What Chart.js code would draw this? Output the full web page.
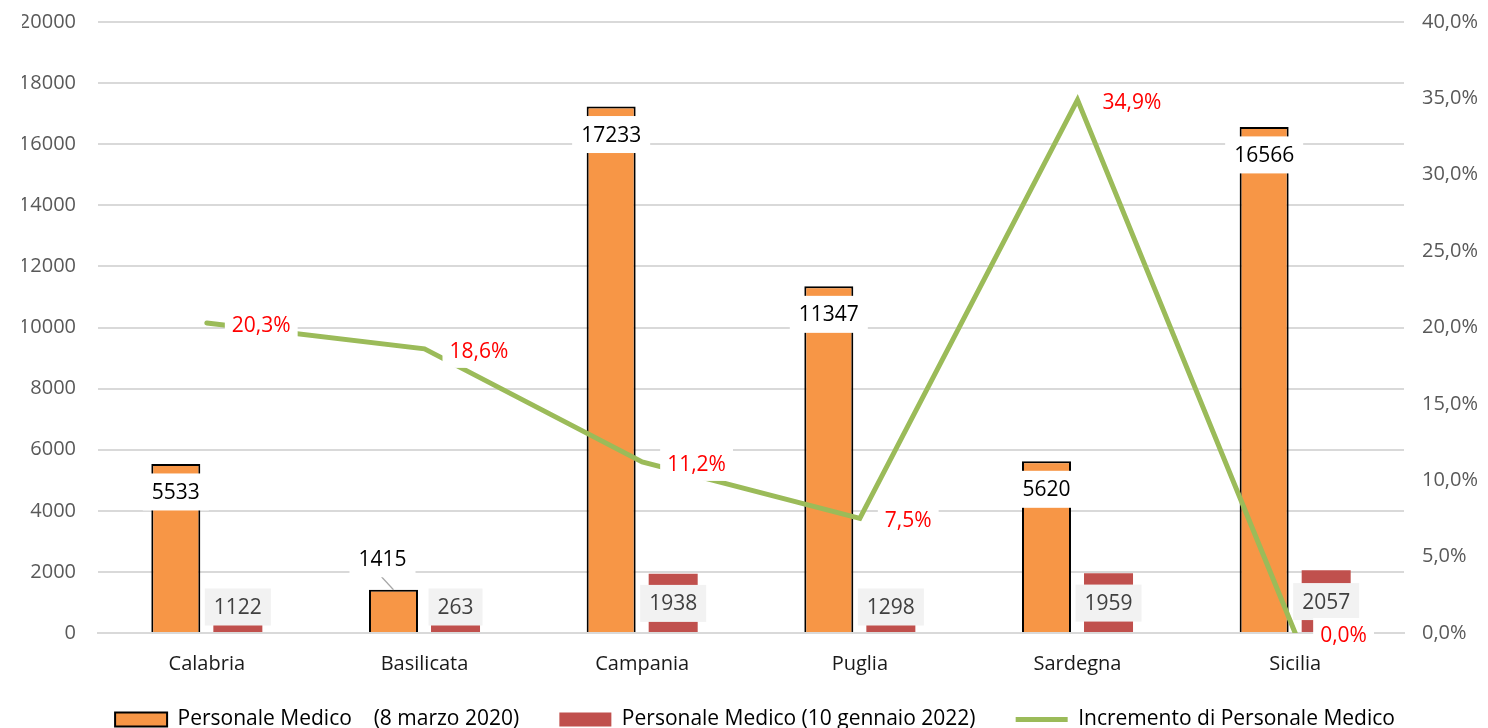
<!DOCTYPE html>
<html>
<head>
<meta charset="utf-8">
<script src="https://cdn.jsdelivr.net/npm/chart.js@4.4.1/dist/chart.umd.min.js"></script>
<style>
  html, body { margin: 0; padding: 0; background: #fff; }
  #wrap { width: 1488px; height: 728px; position: relative; }
</style>
</head>
<body>
<div id="wrap"><canvas id="chart"></canvas></div>
<script>
const regions = ['Calabria', 'Basilicata', 'Campania', 'Puglia', 'Sardegna', 'Sicilia'];
const medici2020 = [5533, 1415, 17233, 11347, 5620, 16566];
const medici2022 = [1122, 263, 1938, 1298, 1959, 2057];
const incremento = [0.203, 0.186, 0.112, 0.075, 0.349, 0.0];

const FONT = '"Open Sans", "Noto Sans", sans-serif';

function pct(v) {
    return (v * 100).toFixed(1).replace('.', ',') + '%';
}

// boxed text, like excel data labels
function boxLabel(ctx, text, cx, cy, bg, color) {
    const w = ctx.measureText(text).width + 18;
    const h = 37;
    ctx.fillStyle = bg;
    ctx.fillRect(cx - w / 2, cy - h / 2, w, h);
    ctx.fillStyle = color;
    ctx.fillText(text, cx, cy + 1);
}

const valueLabels = {
    id: 'valueLabels',
    afterDatasetsDraw(chart) {
        const ctx = chart.ctx;
        const base = chart.scales.y.getPixelForValue(0);
        ctx.save();
        ctx.font = '21px ' + FONT;
        ctx.textAlign = 'center';
        ctx.textBaseline = 'middle';

        // personale 2020: inside end, small bar gets label above with leader line
        chart.getDatasetMeta(0).data.forEach((bar, i) => {
            const txt = String(medici2020[i]);
            if (base - bar.y > 80) {
                boxLabel(ctx, txt, bar.x, bar.y + 28, '#ffffff', '#000000');
            } else {
                const lx = bar.x - 11, ly = bar.y - 31;
                ctx.strokeStyle = '#a6a6a6';
                ctx.lineWidth = 1.2;
                ctx.beginPath();
                ctx.moveTo(lx - 1, ly + 18);
                ctx.lineTo(bar.x, bar.y);
                ctx.stroke();
                boxLabel(ctx, txt, lx, ly, '#ffffff', '#000000');
            }
        });

        // personale 2022: centered, grey box
        chart.getDatasetMeta(1).data.forEach((bar, i) => {
            const cy = Math.min((bar.y + base) / 2, base - 26);
            boxLabel(ctx, String(medici2022[i]), bar.x, cy, '#f2f2f2', '#404040');
        });

        // incremento: right of point
        ctx.textAlign = 'left';
        chart.getDatasetMeta(2).data.forEach((pt, i) => {
            const txt = pct(incremento[i]);
            const w = ctx.measureText(txt).width;
            const x0 = pt.x + 25;
            ctx.fillStyle = '#ffffff';
            ctx.fillRect(x0 - 7, pt.y + 2 - 17, w + 14, 34);
            ctx.fillStyle = '#ff0000';
            ctx.fillText(txt, x0, pt.y + 3);
        });
        ctx.restore();
    }
};

const ctx = document.getElementById('chart').getContext('2d');
const chart = new Chart(ctx, {
    type: 'bar',
    data: {
        labels: regions,
        datasets: [{
            label: 'Personale Medico    (8 marzo 2020)',
            data: medici2020,
            backgroundColor: '#f79646',
            borderColor: '#000000',
            borderWidth: 2,
            pointStyle: 'rect',
            order: 2,
            yAxisID: 'y'
        }, {
            label: 'Personale Medico (10 gennaio 2022)',
            data: medici2022,
            backgroundColor: '#c0504d',
            borderWidth: 0,
            pointStyle: 'rect',
            order: 3,
            yAxisID: 'y'
        }, {
            type: 'line',
            label: 'Incremento di Personale Medico',
            data: incremento,
            borderColor: '#9bbb59',
            backgroundColor: '#9bbb59',
            borderWidth: 5,
            borderCapStyle: 'round',
            pointRadius: 0,
            pointStyle: 'line',
            tension: 0,
            order: 1,
            yAxisID: 'y1'
        }]
    },
    options: {
        responsive: true,
        maintainAspectRatio: false,
        animation: false,
        categoryPercentage: 0.57,
        barPercentage: 0.79,
        layout: { padding: { top: 0, bottom: -12, left: 22, right: 0 } },
        plugins: {
            tooltip: { enabled: false },
            legend: {
                position: 'bottom',
                labels: {
                    font: { family: FONT, size: 21 },
                    color: '#000000',
                    usePointStyle: true,
                    pointStyleWidth: 52,
                    boxHeight: 14,
                    padding: 2,
                    sort: (a, b) => a.datasetIndex - b.datasetIndex,
                    // wider gaps between entries without a tall legend box
                    generateLabels: chart => {
                        const items = Chart.defaults.plugins.legend.labels.generateLabels(chart);
                        items.forEach(it => { if (it.datasetIndex < 2) it.text += '       '; });
                        return items;
                    }
                }
            }
        },
        scales: {
            x: {
                grid: { display: false },
                border: { color: '#d9d9d9', width: 2 },
                ticks: { color: '#1a1a1a', font: { family: FONT, size: 20 }, padding: 11 },
                afterFit: s => { s.height = 74; }
            },
            y: {
                position: 'left',
                min: 0,
                max: 20000,
                ticks: { stepSize: 2000, color: '#595959', font: { family: FONT, size: 20 }, padding: 22, callback: v => String(v) },
                grid: { color: '#d9d9d9', lineWidth: 2, drawTicks: false },
                border: { display: false },
                afterFit: s => { s.width = 76; s.paddingTop = 22; }
            },
            y1: {
                position: 'right',
                min: 0,
                max: 0.4,
                ticks: { stepSize: 0.05, color: '#595959', font: { family: FONT, size: 20 }, padding: 18, callback: v => pct(v) },
                grid: { drawOnChartArea: false, drawTicks: false },
                border: { display: false },
                afterFit: s => { s.width = 84; s.paddingTop = 22; }
            }
        }
    },
    plugins: [valueLabels]
});
</script>
</body>
</html>
